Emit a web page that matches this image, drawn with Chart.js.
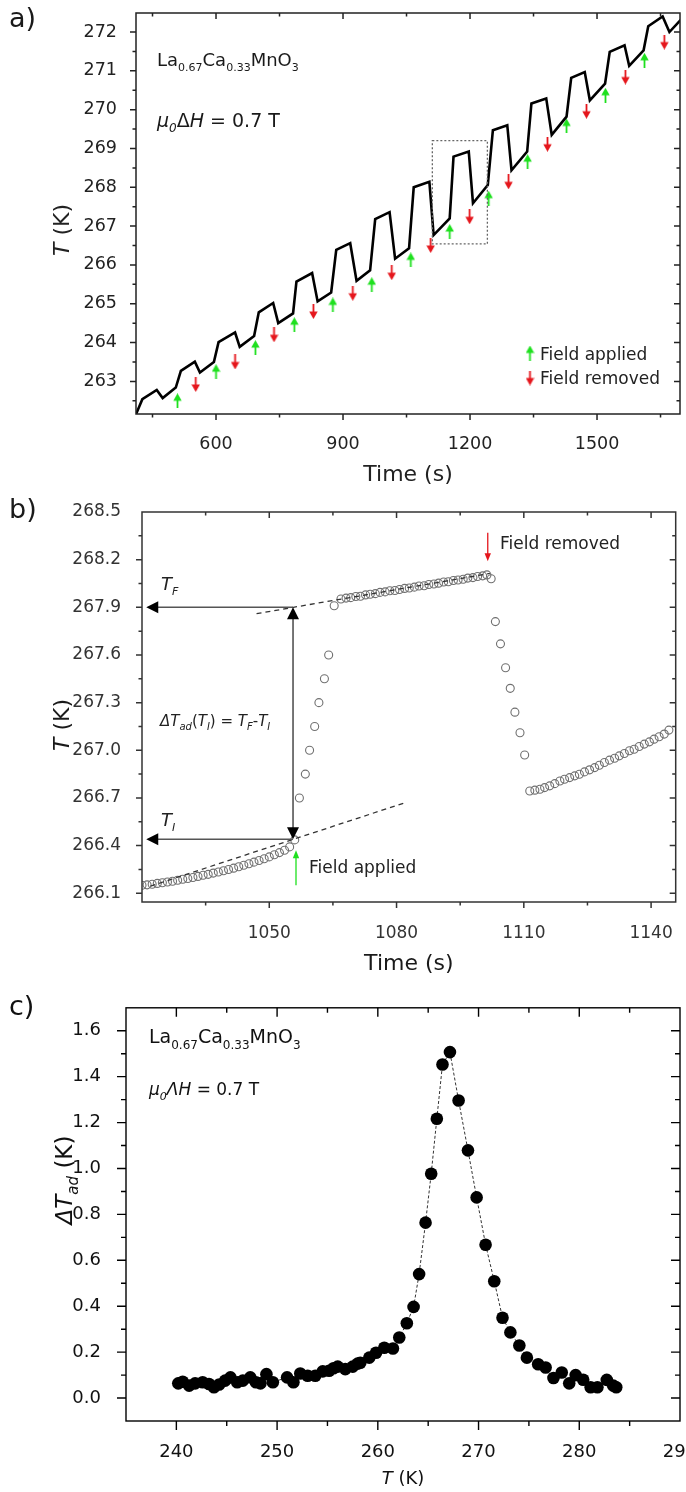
<!DOCTYPE html>
<html><head><meta charset="utf-8">
<script src="https://cdn.jsdelivr.net/npm/chart.js@4.4.1/dist/chart.umd.min.js"></script>
<style>
html,body{margin:0;padding:0;background:#fff;}
body{width:686px;height:1492px;overflow:hidden;position:relative;}
.p{position:absolute;left:0;width:686px;overflow:hidden;}
canvas{display:block;}
</style></head><body>
<div class="p" style="top:-10px;height:500px"><canvas id="ca" width="686" height="500"></canvas></div>
<div class="p" style="top:480px;height:500px"><canvas id="cb" width="686" height="500"></canvas></div>
<div class="p" style="top:980px;height:512px"><canvas id="cc" width="720" height="512"></canvas></div>
<script>
// ---------------- DATA ----------------
// Panel a: temperature vs time (sawtooth)
const aTime = [405,426,460,474,505,517,550,562,595,606,645,656,690,701,735,747,782,790,827,840,872,884,917,932,964,976,1010,1023,1056,1067,1104,1114,1152,1161,1197,1207,1242,1254,1288,1298,1335,1345,1380,1393,1428,1439,1471,1483,1519,1530,1565,1576,1610,1621,1655,1671,1705];
const aTemp = [262.0,262.54,262.78,262.57,262.84,263.27,263.51,263.23,263.50,264.01,264.26,263.89,264.17,264.78,265.02,264.50,264.75,265.57,265.79,265.06,265.29,266.39,266.56,265.59,265.86,267.18,267.36,266.16,266.43,268.00,268.14,266.77,267.20,268.79,268.92,267.59,268.06,269.47,269.60,268.44,268.92,270.16,270.29,269.35,269.82,270.82,270.97,270.24,270.67,271.49,271.66,271.13,271.53,272.15,272.40,272.00,272.40];
const aAppliedTime = [509,600,693,785,876,968,1060,1152,1244,1336,1428,1520,1612];
const aAppliedTemp = [262.5,263.25,263.87,264.46,264.97,265.49,266.13,266.86,267.72,268.66,269.58,270.37,271.27];
const aRemovedTime = [552,645,737,830,923,1015,1107,1199,1291,1383,1475,1567,1659];
const aRemovedTemp = [262.92,263.5,264.2,264.8,265.27,265.8,266.5,267.24,268.14,269.11,269.96,270.84,271.74];
const aBoxTime = [1111,1241];
const aBoxTemp = [266.54,269.2];
const aXTicks = [450,600,750,900,1050,1200,1350,1500,1650];
const aXLabels = [600,900,1200,1500];
const aYTicks = [262.5,263,263.5,264,264.5,265,265.5,266,266.5,267,267.5,268,268.5,269,269.5,270,270.5,271,271.5,272];
const aYLabels = [263,264,265,266,267,268,269,270,271,272];

// Panel b: zoom of one cycle
const bTime = [1020.0,1021.2,1022.4,1023.6,1024.8,1026.0,1027.2,1028.4,1029.6,1030.8,1032.0,1033.2,1034.4,1035.6,1036.8,1038.0,1039.2,1040.4,1041.6,1042.8,1044.0,1045.2,1046.4,1047.6,1048.8,1050.0,1051.2,1052.4,1053.6,1054.8,1056.0,
1057.1,1058.5,1059.5,1060.7,1061.7,1063.0,1064.0,1065.3,
1066.9,1068.1,1069.2,1070.4,1071.5,1072.7,1073.8,1075.0,1076.1,1077.3,1078.4,1079.6,1080.7,1081.9,1083.0,1084.2,1085.3,1086.5,1087.6,1088.8,1089.9,1091.1,1092.2,1093.4,1094.5,1095.7,1096.8,1098.0,1099.1,1100.3,1101.3,
1102.3,1103.3,1104.5,1105.7,1106.8,1107.9,1109.1,1110.2,
1111.4,1112.6,1113.8,1114.9,1116.1,1117.3,1118.5,1119.6,1120.8,1122.0,1123.1,1124.3,1125.5,1126.7,1127.8,1129.0,1130.2,1131.4,1132.5,1133.7,1134.9,1136.0,1137.2,1138.4,1139.6,1140.7,1141.9,1143.1,1144.2];
const bTemp = [266.150,266.153,266.157,266.162,266.166,266.171,266.176,266.182,266.188,266.193,266.199,266.206,266.213,266.219,266.227,266.234,266.242,266.250,266.258,266.267,266.276,266.286,266.296,266.306,266.317,266.329,266.342,266.356,266.371,266.392,266.436,
266.70,266.85,267.00,267.15,267.30,267.45,267.60,267.91,
267.952,267.958,267.961,267.968,267.970,267.978,267.982,267.986,267.994,267.997,268.004,268.006,268.012,268.019,268.022,268.027,268.034,268.036,268.044,268.047,268.052,268.059,268.061,268.069,268.072,268.077,268.084,268.087,268.094,268.098,268.104,
268.08,267.81,267.67,267.52,267.39,267.24,267.11,266.97,
266.744,266.749,266.755,266.765,266.776,266.790,266.807,266.818,266.828,266.839,266.849,266.864,266.877,266.891,266.906,266.923,266.938,266.950,266.965,266.980,266.997,267.007,267.024,267.039,267.053,267.070,267.085,267.102,267.127];
const bFitUpTime = [1047,1102];
const bFitUpTemp = [267.86,268.113];
const bFitLowTime = [1022,1082];
const bFitLowTemp = [266.145,266.67];
const bTF = 267.9, bTI = 266.44, bApplyTime = 1055.6, bRemoveTime = 1101.5, bTipTime = 1021;
const bXTicks = [1035,1050,1065,1080,1095,1110,1125,1140];
const bXLabels = [1050,1080,1110,1140];
const bYTicks = [266.1,266.25,266.4,266.55,266.7,266.85,267.0,267.15,267.3,267.45,267.6,267.75,267.9,268.05,268.2,268.35,268.5];
const bYLabels = [266.1,266.4,266.7,267.0,267.3,267.6,267.9,268.2,268.5];

// Panel c: adiabatic temperature change vs T
const cT = [240.19,240.63,241.27,241.86,242.61,243.24,243.73,244.25,244.84,245.37,246.04,246.6,247.34,247.9,248.35,248.94,249.58,250.99,251.62,252.3,253.04,253.79,254.53,255.16,255.6,256.02,256.77,257.51,258.0,258.26,259.15,259.82,260.64,261.5,262.13,262.88,263.55,264.1,264.74,265.3,265.86,266.42,267.16,268.02,268.95,269.81,270.7,271.56,272.38,273.16,274.05,274.8,275.92,276.66,277.44,278.26,279.0,279.64,280.39,281.13,281.8,282.73,283.37,283.67];
const cDT = [0.064,0.071,0.054,0.064,0.069,0.061,0.047,0.059,0.076,0.09,0.069,0.076,0.09,0.069,0.064,0.104,0.069,0.09,0.069,0.107,0.097,0.097,0.116,0.119,0.13,0.137,0.126,0.137,0.15,0.154,0.176,0.197,0.219,0.216,0.264,0.326,0.397,0.54,0.764,0.977,1.217,1.453,1.507,1.296,1.079,0.874,0.668,0.509,0.35,0.286,0.229,0.176,0.147,0.133,0.087,0.111,0.064,0.1,0.08,0.047,0.047,0.079,0.054,0.047];
const cXTicks = [235,240,245,250,255,260,265,270,275,280,285,290];
const cXLabels = [240,250,260,270,280,290];
const cYTicks = [0,0.1,0.2,0.3,0.4,0.5,0.6,0.7,0.8,0.9,1.0,1.1,1.2,1.3,1.4,1.5,1.6];
const cYLabels = [0,0.2,0.4,0.6,0.8,1.0,1.2,1.4,1.6];

// ---------------- HELPERS ----------------
const FAM = '"DejaVu Sans"';
Chart.defaults.font.family = FAM;
function f(sz, it){ return (it ? 'italic ' : '') + sz + 'px ' + FAM; }
function isIn(v, arr){ return arr.some(L => Math.abs(v - L) < 1e-6); }
function lbl(arr, dec){ return v => { for (const L of arr) if (Math.abs(v - L) < 1e-6) return L.toFixed(dec); return ''; }; }
function pts(xs, ys){ return xs.map((x, i) => ({x, y: ys[i]})); }
function rich(ctx, x, y, parts, align){
  let w = 0;
  parts.forEach(p => { ctx.font = p[1]; w += ctx.measureText(p[0]).width; });
  let cx = align === 'center' ? x - w / 2 : x;
  parts.forEach(p => { ctx.font = p[1]; ctx.fillText(p[0], cx, y + (p[2] || 0)); cx += ctx.measureText(p[0]).width; });
}
function vtitle(ctx, cx, cy, parts, size){
  ctx.save(); ctx.translate(cx, cy); ctx.rotate(-Math.PI / 2);
  rich(ctx, 0, size * 0.36, parts, 'center'); ctx.restore();
}
function arrowCanvas(color, up){
  const c = document.createElement('canvas'); c.width = 9; c.height = 15;
  const g = c.getContext('2d'); g.fillStyle = color; g.strokeStyle = color; g.lineWidth = 1.8;
  g.beginPath();
  if (up) { g.moveTo(4.5, 6); g.lineTo(4.5, 15); } else { g.moveTo(4.5, 0); g.lineTo(4.5, 9); }
  g.stroke();
  g.beginPath();
  if (up) { g.moveTo(4.5, 0); g.lineTo(8.7, 7.5); g.lineTo(0.3, 7.5); }
  else { g.moveTo(4.5, 15); g.lineTo(8.7, 7.5); g.lineTo(0.3, 7.5); }
  g.closePath(); g.fill();
  return c;
}
const GREEN = '#1ee01e', RED = '#e5161c';
const greenArrow = arrowCanvas(GREEN, true);
const redArrow = arrowCanvas(RED, false);

function makeFrame(cfg){
  return { id: 'frame', afterDraw(chart){
    const {ctx, chartArea: a} = chart, x = chart.scales.x, y = chart.scales.y;
    ctx.save(); ctx.strokeStyle = cfg.color; ctx.lineWidth = cfg.width;
    ctx.strokeRect(a.left, a.top, a.right - a.left, a.bottom - a.top);
    ctx.beginPath();
    cfg.xTicks.forEach(v => {
      const p = x.getPixelForValue(v);
      if (p < a.left + 1 || p > a.right - 1) return;
      const L = isIn(v, cfg.xMajors) ? cfg.major : cfg.minor;
      ctx.moveTo(p, a.bottom); ctx.lineTo(p, a.bottom + L);
      ctx.moveTo(p, a.top); ctx.lineTo(p, a.top + L);
    });
    cfg.yTicks.forEach(v => {
      const p = y.getPixelForValue(v);
      if (p < a.top + 1 || p > a.bottom - 1) return;
      const L = isIn(v, cfg.yMajors) ? cfg.major : cfg.minor;
      ctx.moveTo(a.left - L, p); ctx.lineTo(a.left, p);
      ctx.moveTo(a.right - L, p); ctx.lineTo(a.right, p);
    });
    ctx.stroke(); ctx.restore();
  }};
}
function axisCfg(min, max, ticks, labels, dec, size, pad, color, fitFn){
  return { type: 'linear', min, max,
    grid: {display: false}, border: {display: false},
    afterBuildTicks: s => { s.ticks = ticks.map(v => ({value: v})); },
    afterFit: fitFn,
    ticks: {autoSkip: false, maxRotation: 0, minRotation: 0, padding: pad, color, font: {size, family: FAM}, callback: lbl(labels, dec)} };
}
const baseOpts = { responsive: false, animation: false, events: [], plugins: {legend: {display: false}, tooltip: {enabled: false}} };

// ---------------- PANEL A ----------------
new Chart(document.getElementById('ca'), {
  type: 'scatter',
  data: { datasets: [
    { type: 'line', data: pts(aTime, aTemp), borderColor: '#000', borderWidth: 2.6, pointRadius: 0, tension: 0, fill: false, borderJoinStyle: 'miter' },
    { data: pts(aAppliedTime, aAppliedTemp), pointStyle: greenArrow, pointRadius: 5 },
    { data: pts(aRemovedTime, aRemovedTemp), pointStyle: redArrow, pointRadius: 5 }
  ]},
  options: Object.assign({}, baseOpts, {
    layout: {padding: {top: 23, right: 6, left: 0, bottom: 0}},
    scales: {
      x: axisCfg(411, 1696, aXTicks, aXLabels, 0, 17.5, 12, '#222', s => { s.height = 76; }),
      y: axisCfg(262.16, 272.49, aYTicks, aYLabels, 0, 17.5, 11, '#222', s => { s.width = 136; })
    }
  }),
  plugins: [makeFrame({xTicks: aXTicks, xMajors: aXLabels, yTicks: aYTicks, yMajors: aYLabels, major: 6, minor: 3.5, color: '#222', width: 1.5}),
  { id: 'annA', afterDraw(chart){
    const ctx = chart.ctx, o = 10, a = chart.chartArea, x = chart.scales.x, y = chart.scales.y;
    ctx.save();
    ctx.strokeStyle = '#666'; ctx.lineWidth = 1.3; ctx.setLineDash([2, 2]);
    const x0 = x.getPixelForValue(aBoxTime[0]), x1 = x.getPixelForValue(aBoxTime[1]);
    const y0 = y.getPixelForValue(aBoxTemp[1]), y1 = y.getPixelForValue(aBoxTemp[0]);
    ctx.strokeRect(x0, y0, x1 - x0, y1 - y0);
    ctx.setLineDash([]);
    ctx.fillStyle = '#1a1a1a'; ctx.textAlign = 'left'; ctx.textBaseline = 'alphabetic';
    rich(ctx, 9, 27 + o, [['a)', f(27)]]);
    rich(ctx, 157, 66 + o, [['La', f(18)], ['0.67', f(11), 5], ['Ca', f(18)], ['0.33', f(11), 5], ['MnO', f(18)], ['3', f(11), 5]]);
    rich(ctx, 157, 127 + o, [['μ', f(19, 1)], ['0', f(12, 1), 5], ['Δ', f(19)], ['H', f(19, 1)], [' = 0.7 T', f(19)]]);
    ctx.drawImage(greenArrow, 530 - 4.5, 353 + o - 7.5);
    ctx.drawImage(redArrow, 530 - 4.5, 378 + o - 7.5);
    ctx.fillStyle = '#222';
    rich(ctx, 540, 360 + o, [['Field applied', f(17)]]);
    rich(ctx, 540, 384 + o, [['Field removed', f(17)]]);
    rich(ctx, (a.left + a.right) / 2, 481 + o, [['Time (s)', f(22)]], 'center');
    vtitle(ctx, 61, 230 + o, [['T', f(22, 1)], [' (K)', f(22)]], 22);
    ctx.restore();
  }}]
});

// ---------------- PANEL B ----------------
new Chart(document.getElementById('cb'), {
  type: 'scatter',
  data: { datasets: [
    { type: 'line', data: pts(bFitUpTime, bFitUpTemp), borderColor: '#333', borderWidth: 1.3, borderDash: [5, 4], pointRadius: 0 },
    { type: 'line', data: pts(bFitLowTime, bFitLowTemp), borderColor: '#333', borderWidth: 1.3, borderDash: [5, 4], pointRadius: 0 },
    { data: pts(bTime, bTemp), pointStyle: 'circle', pointRadius: 4, borderColor: '#707070', borderWidth: 1.1, backgroundColor: 'rgba(0,0,0,0)' }
  ]},
  options: Object.assign({}, baseOpts, {
    layout: {padding: {top: 32, right: 6, left: 0, bottom: 0}},
    scales: {
      x: axisCfg(1020, 1145.8, bXTicks, bXLabels, 0, 17, 13, '#333', s => { s.height = 78; }),
      y: axisCfg(266.045, 268.5, bYTicks, bYLabels, 1, 17, 13, '#333', s => { s.width = 142; })
    }
  }),
  plugins: [makeFrame({xTicks: bXTicks, xMajors: bXLabels, yTicks: bYTicks, yMajors: bYLabels, major: 6, minor: 3.5, color: '#333', width: 1.5}),
  { id: 'annB', afterDraw(chart){
    const ctx = chart.ctx, o = -480, a = chart.chartArea, x = chart.scales.x, y = chart.scales.y;
    ctx.save();
    const xa = x.getPixelForValue(bApplyTime), yF = y.getPixelForValue(bTF), yI = y.getPixelForValue(bTI), xt = x.getPixelForValue(bTipTime);
    ctx.strokeStyle = '#555'; ctx.lineWidth = 1.6; ctx.fillStyle = '#000';
    ctx.beginPath();
    ctx.moveTo(xa, yF); ctx.lineTo(xt + 8, yF);
    ctx.moveTo(xa, yI); ctx.lineTo(xt + 8, yI);
    ctx.moveTo(xa, yF + 8); ctx.lineTo(xa, yI - 8);
    ctx.stroke();
    const tri = (p) => { ctx.beginPath(); ctx.moveTo(p[0], p[1]); ctx.lineTo(p[2], p[3]); ctx.lineTo(p[4], p[5]); ctx.closePath(); ctx.fill(); };
    tri([xt, yF, xt + 12, yF - 6, xt + 12, yF + 6]);
    tri([xt, yI, xt + 12, yI - 6, xt + 12, yI + 6]);
    tri([xa, yF, xa - 6, yF + 12, xa + 6, yF + 12]);
    tri([xa, yI, xa - 6, yI - 12, xa + 6, yI - 12]);
    const xr = x.getPixelForValue(bRemoveTime), yr0 = y.getPixelForValue(268.37), yr1 = y.getPixelForValue(268.19);
    ctx.strokeStyle = RED; ctx.fillStyle = RED; ctx.lineWidth = 1.3;
    ctx.beginPath(); ctx.moveTo(xr, yr0); ctx.lineTo(xr, yr1 - 6); ctx.stroke();
    tri([xr, yr1, xr - 3.2, yr1 - 8, xr + 3.2, yr1 - 8]);
    const xg = x.getPixelForValue(1056.3), yg0 = y.getPixelForValue(266.15), yg1 = y.getPixelForValue(266.37);
    ctx.strokeStyle = GREEN; ctx.fillStyle = GREEN;
    ctx.beginPath(); ctx.moveTo(xg, yg0); ctx.lineTo(xg, yg1 + 6); ctx.stroke();
    tri([xg, yg1, xg - 3.2, yg1 + 8, xg + 3.2, yg1 + 8]);
    ctx.fillStyle = '#1a1a1a'; ctx.textAlign = 'left'; ctx.textBaseline = 'alphabetic';
    rich(ctx, 9, 518 + o, [['b)', f(27)]]);
    ctx.fillStyle = '#222';
    rich(ctx, 500, 549 + o, [['Field removed', f(17)]]);
    rich(ctx, 309, 873 + o, [['Field applied', f(17)]]);
    rich(ctx, 161, 590 + o, [['T', f(18, 1)], ['F', f(11, 1), 5]]);
    rich(ctx, 161, 826 + o, [['T', f(18, 1)], ['I', f(11, 1), 5]]);
    rich(ctx, 160, 726 + o, [['ΔT', f(15, 1)], ['ad', f(10, 1), 4], ['(', f(15)], ['T', f(15, 1)], ['I', f(10, 1), 4], [') = ', f(15)], ['T', f(15, 1)], ['F', f(10, 1), 4], ['-', f(15)], ['T', f(15, 1)], ['I', f(10, 1), 4]]);
    ctx.fillStyle = '#1a1a1a';
    rich(ctx, (a.left + a.right) / 2, 970 + o, [['Time (s)', f(22)]], 'center');
    vtitle(ctx, 61, 725 + o, [['T', f(22, 1)], [' (K)', f(22)]], 22);
    ctx.restore();
  }}]
});

// ---------------- PANEL C ----------------
new Chart(document.getElementById('cc'), {
  type: 'scatter',
  data: { datasets: [
    { type: 'line', data: pts(cT, cDT), borderColor: '#333', borderWidth: 1, borderDash: [3, 2], tension: 0,
      pointRadius: 6.3, pointBackgroundColor: '#000', pointBorderColor: '#000', pointBorderWidth: 0, fill: false }
  ]},
  options: Object.assign({}, baseOpts, {
    layout: {padding: {top: 21, right: 40, left: 0, bottom: 0}},
    scales: {
      x: axisCfg(235, 290, cXTicks, cXLabels, 0, 18, 13, '#111', s => { s.height = 71; }),
      y: axisCfg(-0.1, 1.7, cYTicks, cYLabels, 1, 18, 17, '#111', s => { s.width = 126; })
    }
  }),
  plugins: [makeFrame({xTicks: cXTicks, xMajors: cXLabels, yTicks: cYTicks, yMajors: cYLabels, major: 9, minor: 5, color: '#000', width: 1.4}),
  { id: 'annC', afterDraw(chart){
    const ctx = chart.ctx, o = -980, a = chart.chartArea;
    ctx.save();
    ctx.fillStyle = '#111'; ctx.textAlign = 'left'; ctx.textBaseline = 'alphabetic';
    rich(ctx, 9, 1015 + o, [['c)', f(27)]]);
    rich(ctx, 149, 1043 + o, [['La', f(19)], ['0.67', f(12), 6], ['Ca', f(19)], ['0.33', f(12), 6], ['MnO', f(19)], ['3', f(12), 6]]);
    rich(ctx, 149, 1095 + o, [['μ', f(17, 1)], ['0', f(11, 1), 5], ['Λ', f(17, 1)], ['H', f(17, 1)], [' = 0.7 T', f(17)]]);
    rich(ctx, (a.left + a.right) / 2, 1484 + o, [['T', f(18, 1)], [' (K)', f(18)]], 'center');
    vtitle(ctx, 64, 1180 + o, [['ΔT', f(23, 1)], ['ad', f(15, 1), 6], [' (K)', f(23)]], 23);
    ctx.restore();
  }}]
});
</script>
</body></html>
